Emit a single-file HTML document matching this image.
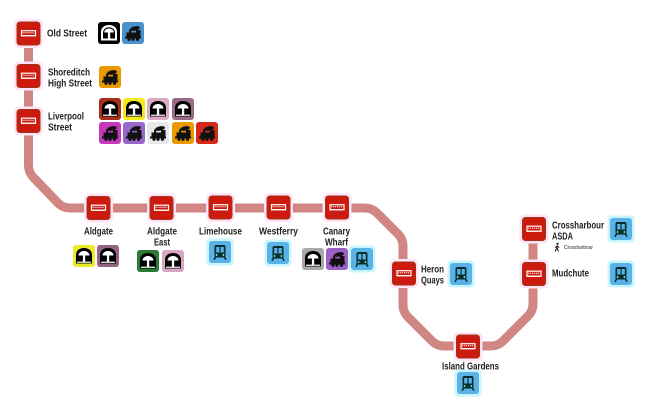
<!DOCTYPE html>
<html>
<head>
<meta charset="utf-8">
<style>
html,body{margin:0;padding:0;background:#fff;}
svg{display:block;}
text{font-family:"Liberation Sans",sans-serif;font-weight:bold;font-size:10px;fill:#222;}
</style>
</head>
<body>
<svg width="666" height="402" viewBox="0 0 666 402" xmlns="http://www.w3.org/2000/svg">
<defs>
  <g id="stn">
    <rect x="-14.5" y="-14.5" width="29" height="29" rx="5" fill="#ffe3f6"/>
    <rect x="-11.5" y="-11.5" width="23" height="23" rx="3" fill="#cc1a0e" stroke="#a3341a" stroke-width="1"/>
    <rect x="-7" y="-2.8" width="14" height="5" fill="none" stroke="#fff" stroke-width="1.2"/>
    <line x1="-6" y1="-0.8" x2="6" y2="-0.8" stroke="#fff" stroke-width="1" stroke-dasharray="1.2 0.8"/>
    <rect x="-7.5" y="1.6" width="15" height="1.2" fill="#fff"/>
  </g>
  <g id="tube">
    <rect x="0" y="0" width="22" height="22" rx="3" fill="currentColor"/>
    <path d="M3,18.5 L3,10 C3,5.5 6.5,3 11,3 C15.5,3 19,5.5 19,10 L19,18.5 Z" fill="#000"/>
    <path d="M5.5,10.5 C5.5,8 8,6 11,6 C14,6 16.5,8 16.5,10.5 Z" fill="#fff"/>
    <rect x="9.9" y="6" width="2.3" height="11" fill="#fff"/>
    <rect x="4" y="16.6" width="14" height="1.3" fill="#fff" opacity="0.9"/>
  </g>
  <g id="tubeinv">
    <rect x="0" y="0" width="22" height="22" rx="3" fill="#000"/>
    <path d="M3,18.5 L3,10 C3,5.5 6.5,3 11,3 C15.5,3 19,5.5 19,10 L19,18.5 Z" fill="#fff"/>
    <path d="M5,16.5 L5,10.5 C5,7.5 8,5.2 11,5.2 C14,5.2 17,7.5 17,10.5 L17,16.5 Z" fill="#000"/>
    <path d="M6.2,10.5 C6.2,8 8.5,6.5 11,6.5 C13.5,6.5 15.8,8 15.8,10.5 Z" fill="#fff"/>
    <rect x="9.9" y="6.5" width="2.3" height="10" fill="#fff"/>
  </g>
  <g id="rail">
    <rect x="0" y="0" width="22" height="22" rx="3" fill="currentColor"/>
    <ellipse cx="13" cy="6.5" rx="5" ry="2.2" fill="#111" transform="rotate(-12 13 6.5)"/>
    <rect x="7" y="7.5" width="2.2" height="3.5" fill="#111"/>
    <rect x="4.5" y="10.5" width="10.5" height="4.5" fill="#111"/>
    <rect x="14" y="8" width="4.5" height="7" fill="#111"/>
    <rect x="3" y="14.5" width="16" height="2" fill="#111"/>
    <circle cx="7" cy="17.3" r="1.6" fill="#111"/>
    <circle cx="11" cy="17.3" r="1.6" fill="#111"/>
    <circle cx="15.5" cy="17.3" r="1.6" fill="#111"/>
  </g>
  <g id="dlr">
    <rect x="-2.5" y="-2.5" width="27" height="27" rx="4" fill="#c9f5ff"/>
    <rect x="0" y="0" width="22" height="22" rx="3" fill="#5ab2e6"/>
    <rect x="5.5" y="4" width="11" height="12.5" rx="2" fill="#06302e"/>
    <rect x="7.2" y="6" width="3.2" height="5.5" fill="#5ab2e6"/>
    <rect x="11.6" y="6" width="3.2" height="5.5" fill="#5ab2e6"/>
    <circle cx="7.6" cy="14" r="0.9" fill="#9ff"/>
    <circle cx="14.4" cy="14" r="0.9" fill="#9ff"/>
    <path d="M6.5,16 L5,18.8 M15.5,16 L17,18.8" stroke="#06302e" stroke-width="1.6"/>
  </g>
</defs>

<!-- line -->
<path d="M28.5,34 L28.5,165 Q28.5,172 33,177 L58,203 Q63,208 70,208 L365,208 Q372,208 377,213 L398,234 Q403,239 403,246 L403,305 Q403,312 408,317 L432,341 Q437,346 444,346 L491,346 Q498,346 503,341 L528,316 Q533,311 533,304 L533,229" fill="none" stroke="#d08682" stroke-width="9" stroke-linejoin="round"/>

<!-- stations -->
<use href="#stn" transform="translate(28.5,33.5)"/>
<use href="#stn" transform="translate(28.5,76)"/>
<use href="#stn" transform="translate(28.5,121)"/>
<use href="#stn" transform="translate(98.5,208)"/>
<use href="#stn" transform="translate(161.5,208)"/>
<use href="#stn" transform="translate(220.5,207.5)"/>
<use href="#stn" transform="translate(278.5,207.5)"/>
<use href="#stn" transform="translate(337,207.5)"/>
<use href="#stn" transform="translate(404,273.5)"/>
<use href="#stn" transform="translate(468,346.5)"/>
<use href="#stn" transform="translate(534,229)"/>
<use href="#stn" transform="translate(534,274)"/>

<!-- icons -->
<use href="#tubeinv" transform="translate(98,22)"/>
<use href="#rail" transform="translate(122,22)" style="color:#4a92cc"/>
<use href="#rail" transform="translate(99,66)" style="color:#e89a00"/>

<use href="#tube" transform="translate(99,98)" style="color:#a8301a"/>
<use href="#tube" transform="translate(123,98)" style="color:#f2e81c"/>
<use href="#tube" transform="translate(147,98)" style="color:#dca8c4"/>
<use href="#tube" transform="translate(172,98)" style="color:#9a6a88"/>
<use href="#rail" transform="translate(99,122)" style="color:#c43ab8"/>
<use href="#rail" transform="translate(123,122)" style="color:#9966cc"/>
<use href="#rail" transform="translate(147,122)" style="color:#e8e8e8"/>
<use href="#rail" transform="translate(172,122)" style="color:#e89a00"/>
<use href="#rail" transform="translate(196,122)" style="color:#d42a18"/>

<use href="#tube" transform="translate(73,245)" style="color:#eaea2a"/>
<use href="#tube" transform="translate(97,245)" style="color:#946482"/>
<use href="#tube" transform="translate(137,250)" style="color:#2a7a3a"/>
<use href="#tube" transform="translate(162,250)" style="color:#d8a6c2"/>
<use href="#dlr" transform="translate(209,241)"/>
<use href="#dlr" transform="translate(267,242)"/>
<use href="#tube" transform="translate(302,248)" style="color:#a8a8a8"/>
<use href="#rail" transform="translate(326,248)" style="color:#9a60c8"/>
<use href="#dlr" transform="translate(351,248)"/>
<use href="#dlr" transform="translate(450,263)"/>
<use href="#dlr" transform="translate(457,372)"/>
<use href="#dlr" transform="translate(610,218)"/>
<use href="#dlr" transform="translate(610,263)"/>

<!-- labels -->
<text x="47" y="36.5" textLength="40" lengthAdjust="spacingAndGlyphs">Old Street</text>
<text x="48" y="75.5" textLength="42" lengthAdjust="spacingAndGlyphs">Shoreditch</text>
<text x="48" y="86.5" textLength="44" lengthAdjust="spacingAndGlyphs">High Street</text>
<text x="48" y="119.5" textLength="36" lengthAdjust="spacingAndGlyphs">Liverpool</text>
<text x="48" y="130.5" textLength="24" lengthAdjust="spacingAndGlyphs">Street</text>

<text x="84" y="234.5" textLength="29" lengthAdjust="spacingAndGlyphs">Aldgate</text>
<text x="147" y="234.5" textLength="30" lengthAdjust="spacingAndGlyphs">Aldgate</text>
<text x="154" y="245.5" textLength="16" lengthAdjust="spacingAndGlyphs">East</text>
<text x="199" y="234.5" textLength="43" lengthAdjust="spacingAndGlyphs">Limehouse</text>
<text x="259" y="234.5" textLength="39" lengthAdjust="spacingAndGlyphs">Westferry</text>
<text x="323" y="234.5" textLength="27" lengthAdjust="spacingAndGlyphs">Canary</text>
<text x="325" y="245.5" textLength="23" lengthAdjust="spacingAndGlyphs">Wharf</text>

<text x="421" y="272.5" textLength="23" lengthAdjust="spacingAndGlyphs">Heron</text>
<text x="421" y="283.5" textLength="23" lengthAdjust="spacingAndGlyphs">Quays</text>
<text x="442" y="369.5" textLength="57" lengthAdjust="spacingAndGlyphs">Island Gardens</text>

<text x="552" y="228.5" textLength="52" lengthAdjust="spacingAndGlyphs">Crossharbour</text>
<text x="552" y="239.5" textLength="21" lengthAdjust="spacingAndGlyphs">ASDA</text>
<text x="552" y="276.5" textLength="37" lengthAdjust="spacingAndGlyphs">Mudchute</text>

<!-- walking icon -->
<g fill="#111" stroke="#111">
  <circle cx="557.5" cy="243.8" r="1.1" stroke="none"/>
  <path d="M557.3,245.3 L556.6,248.5 L555,251.5 M556.8,247.5 L558.5,251.5 M557.2,246 L555.2,247.6 M557.2,246 L559.2,247.6" fill="none" stroke-width="1"/>
</g>
<text x="564" y="249" style="font-size:5px;font-weight:normal" textLength="29" lengthAdjust="spacingAndGlyphs">Crossharbour</text>
</svg>
</body>
</html>
